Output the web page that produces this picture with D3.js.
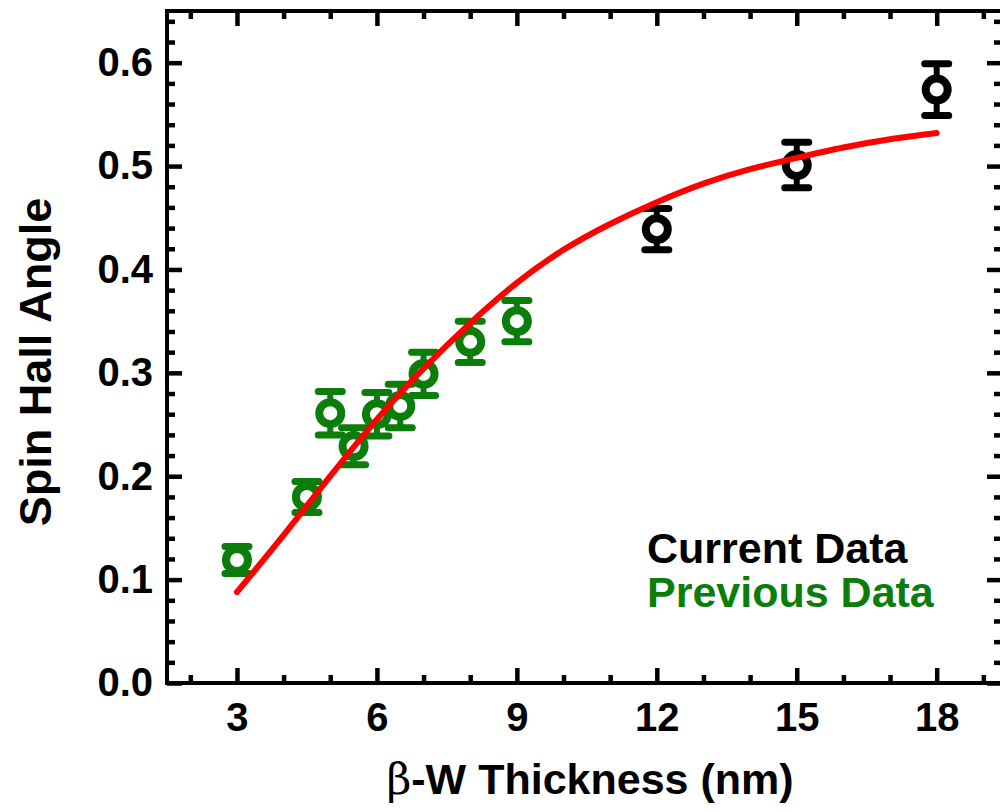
<!DOCTYPE html>
<html>
<head>
<meta charset="utf-8">
<script src="https://cdn.jsdelivr.net/npm/d3@7"></script>
<style>
  body { margin: 0; background: #fff; }
  svg { display: block; font-family: "Liberation Sans", Arial, sans-serif; font-weight: bold; }
</style>
</head>
<body>
<svg id="chart" width="1000" height="812"></svg>
<script>
// current data (black)
const curThick = [12, 15, 18];
const curAngle = [0.439, 0.501, 0.574];
const curErr = [0.02, 0.022, 0.025];

// previous data (green)
const prevThick = [3, 4.5, 5, 5.5, 6, 6.5, 7, 8, 9];
const prevAngle = [0.119, 0.180, 0.261, 0.229, 0.260, 0.268, 0.299, 0.330, 0.350];
const prevErr = [0.013, 0.015, 0.021, 0.018, 0.021, 0.021, 0.021, 0.02, 0.02];

// red fit curve
const fitThick = [3, 4, 5, 6, 7, 8, 9, 10, 11, 12, 13, 14, 15, 16, 17, 18];
const fitAngle = [0.088, 0.143, 0.200, 0.255, 0.304, 0.348, 0.387, 0.419, 0.444, 0.465, 0.483,
                  0.497, 0.508, 0.518, 0.526, 0.532];

const xTicks = [3, 6, 9, 12, 15, 18];
const yTicks = [0, 0.1, 0.2, 0.3, 0.4, 0.5, 0.6];

const svg = d3.select("#chart");
const margin = { top: 11, left: 167, right: -2, bottom: 129 };
const width = 1000, height = 812;

const x = d3.scaleLinear().domain([1.5, 19.4]).range([margin.left, width - margin.right]);
const y = d3.scaleLinear().domain([0, 0.65]).range([height - margin.bottom, margin.top]);

const xMinor = d3.range(2, 20, 1).filter(v => v % 3 !== 0);
const yMinor = d3.range(0.02, 0.65, 0.02).filter(v => Math.abs(v * 10 - Math.round(v * 10)) > 0.01);

function styleAxis(g) {
    g.select(".domain").remove();
    g.selectAll(".tick line").attr("stroke", "#000").attr("stroke-width", 4.5);
    g.selectAll(".tick text").attr("fill", "#000").style("font-size", "40px")
        .style("font-family", "'Liberation Sans', Arial, sans-serif").style("font-weight", "bold");
}

const x0 = x.range()[0], x1 = x.range()[1], y0 = y.range()[0], y1 = y.range()[1];

// bottom
svg.append("g").attr("transform", `translate(0,${y0})`)
    .call(d3.axisBottom(x).tickValues(xTicks).tickSize(-15).tickPadding(20).tickFormat(d3.format("d")))
    .call(styleAxis);
svg.append("g").attr("transform", `translate(0,${y0})`)
    .call(d3.axisBottom(x).tickValues(xMinor).tickSize(-8).tickFormat(""))
    .call(styleAxis);
// top
svg.append("g").attr("transform", `translate(0,${y1})`)
    .call(d3.axisTop(x).tickValues(xTicks).tickSize(-15).tickFormat(""))
    .call(styleAxis);
svg.append("g").attr("transform", `translate(0,${y1})`)
    .call(d3.axisTop(x).tickValues(xMinor).tickSize(-8).tickFormat(""))
    .call(styleAxis);
// left
svg.append("g").attr("transform", `translate(${x0},0)`)
    .call(d3.axisLeft(y).tickValues(yTicks).tickSize(-15).tickPadding(14).tickFormat(d3.format(".1f")))
    .call(styleAxis);
svg.append("g").attr("transform", `translate(${x0},0)`)
    .call(d3.axisLeft(y).tickValues(yMinor).tickSize(-8).tickFormat(""))
    .call(styleAxis);
// right
svg.append("g").attr("transform", `translate(${x1},0)`)
    .call(d3.axisRight(y).tickValues(yTicks).tickSize(-15).tickFormat(""))
    .call(styleAxis);
svg.append("g").attr("transform", `translate(${x1},0)`)
    .call(d3.axisRight(y).tickValues(yMinor).tickSize(-8).tickFormat(""))
    .call(styleAxis);

// frame
svg.append("rect")
    .attr("x", x0).attr("y", y1)
    .attr("width", x1 - x0).attr("height", y0 - y1)
    .attr("fill", "none").attr("stroke", "#000").attr("stroke-width", 4);

// axis titles
svg.append("text")
    .attr("x", 590).attr("y", 794)
    .attr("text-anchor", "middle")
    .style("font-size", "43px")
    .call(t => {
        t.append("tspan").style("font-weight", "normal").style("font-family", "'DejaVu Serif', serif").text("β");
        t.append("tspan").text("-W Thickness (nm)");
    });

svg.append("text")
    .attr("transform", "translate(51,362) rotate(-90)")
    .attr("text-anchor", "middle")
    .style("font-size", "45px")
    .text("Spin Hall Angle");

// error bars + markers
function drawSeries(xs, ys, es, color) {
    const data = xs.map((d, i) => ({ x: d, y: ys[i], e: es[i] }));
    const g = svg.append("g");
    g.selectAll(".bar").data(data).enter().append("line")
        .attr("x1", d => x(d.x)).attr("x2", d => x(d.x))
        .attr("y1", d => y(d.y - d.e)).attr("y2", d => y(d.y + d.e))
        .attr("stroke", color).attr("stroke-width", 6);
    [-1, 1].forEach(s => {
        g.selectAll(".cap" + s).data(data).enter().append("line")
            .attr("x1", d => x(d.x) - 12).attr("x2", d => x(d.x) + 12)
            .attr("y1", d => y(d.y + s * d.e)).attr("y2", d => y(d.y + s * d.e))
            .attr("stroke", color).attr("stroke-width", 7).attr("stroke-linecap", "round");
    });
    g.selectAll("circle").data(data).enter().append("circle")
        .attr("cx", d => x(d.x)).attr("cy", d => y(d.y)).attr("r", 11)
        .attr("fill", "#fff").attr("stroke", color).attr("stroke-width", 8);
}
drawSeries(prevThick, prevAngle, prevErr, "#0a7d0a");
drawSeries(curThick, curAngle, curErr, "#000");

// fit line
const line = d3.line().x(d => x(d[0])).y(d => y(d[1])).curve(d3.curveNatural);
svg.append("path")
    .datum(fitThick.map((d, i) => [d, fitAngle[i]]))
    .attr("d", line)
    .attr("fill", "none").attr("stroke", "#ff0000").attr("stroke-width", 6)
    .attr("stroke-linecap", "round");

// legend
svg.append("text").attr("x", 647).attr("y", 563).style("font-size", "43px").attr("fill", "#000").text("Current Data");
svg.append("text").attr("x", 647).attr("y", 607).style("font-size", "43px").attr("fill", "#0a7d0a").text("Previous Data");
</script>
</body>
</html>
